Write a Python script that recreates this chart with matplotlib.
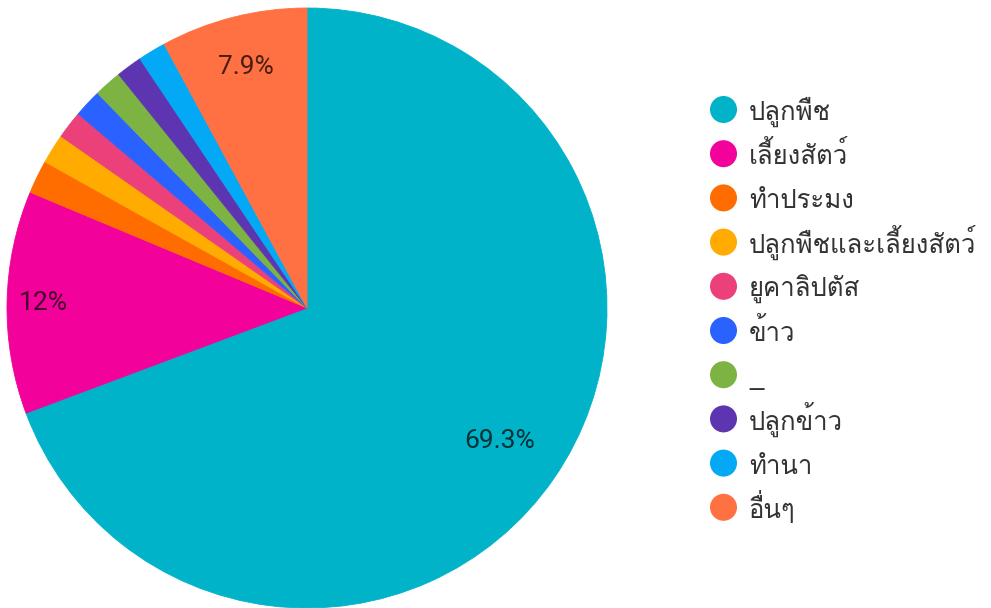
import matplotlib
matplotlib.use('Agg')
import matplotlib.pyplot as plt
from matplotlib.patches import Circle
import numpy as np

# answers (percent of respondents)
labels = ['ปลูกพืช', 'เลี้ยงสัตว์', 'ทำประมง', 'ปลูกพืชและเลี้ยงสัตว์', 'ยูคาลิปตัส',
          'ข้าว', '_', 'ปลูกข้าว', 'ทำนา', 'อื่นๆ']
values = [69.3, 12.0, 1.8, 1.6, 1.5, 1.5, 1.5, 1.4, 1.5, 7.9]
colors = ['#00B3C9', '#F2029A', '#FF6D00', '#FFAB00', '#EC407A',
          '#2962FF', '#7CB342', '#5E35B1', '#03A9F4', '#FF7043']

thai_font = ['Loma', 'Noto Sans Thai Looped', 'DejaVu Sans']

W, H = 991, 608
fig = plt.figure(figsize=(W / 100, H / 100), dpi=100)
ax = fig.add_axes([7 / W, 0.0, 600 / W, 600 / H])

wedges, _ = ax.pie(values, colors=colors, startangle=90, counterclock=False,
                   radius=1.0, wedgeprops=dict(linewidth=0.6, antialiased=True))
for w, c in zip(wedges, colors):
    w.set_edgecolor(c)
ax.set_xlim(-1.0, 1.0)
ax.set_ylim(-1.0, 1.0)
ax.set_aspect('equal')
ax.axis('off')

# percentage labels only on the big slices
label_dist = {0: 0.78, 1: 0.88, 9: 0.83}
for i, w in enumerate(wedges):
    if i not in label_dist:
        continue
    ang = np.deg2rad((w.theta1 + w.theta2) / 2)
    r = label_dist[i]
    txt = ('%.1f' % values[i]).rstrip('0').rstrip('.') + '%'
    ax.text(r * np.cos(ang), r * np.sin(ang), txt, ha='center', va='center',
            fontsize=19, family=['Roboto', 'DejaVu Sans'], color='black', alpha=0.72)

# legend drawn in pixel coordinates
lax = fig.add_axes([0, 0, 1, 1])
lax.set_xlim(0, W)
lax.set_ylim(H, 0)
lax.axis('off')
y0, step = 109.5, 44.2
for i, (lab, c) in enumerate(zip(labels, colors)):
    y = y0 + i * step
    lax.add_patch(Circle((723.5, y), 13.5, facecolor=c, edgecolor='none'))
    lax.text(749, y + 10.5, lab, ha='left', va='baseline', fontsize=18.5,
             family=thai_font, color='#333333')

fig.savefig('out.png', dpi=100)
